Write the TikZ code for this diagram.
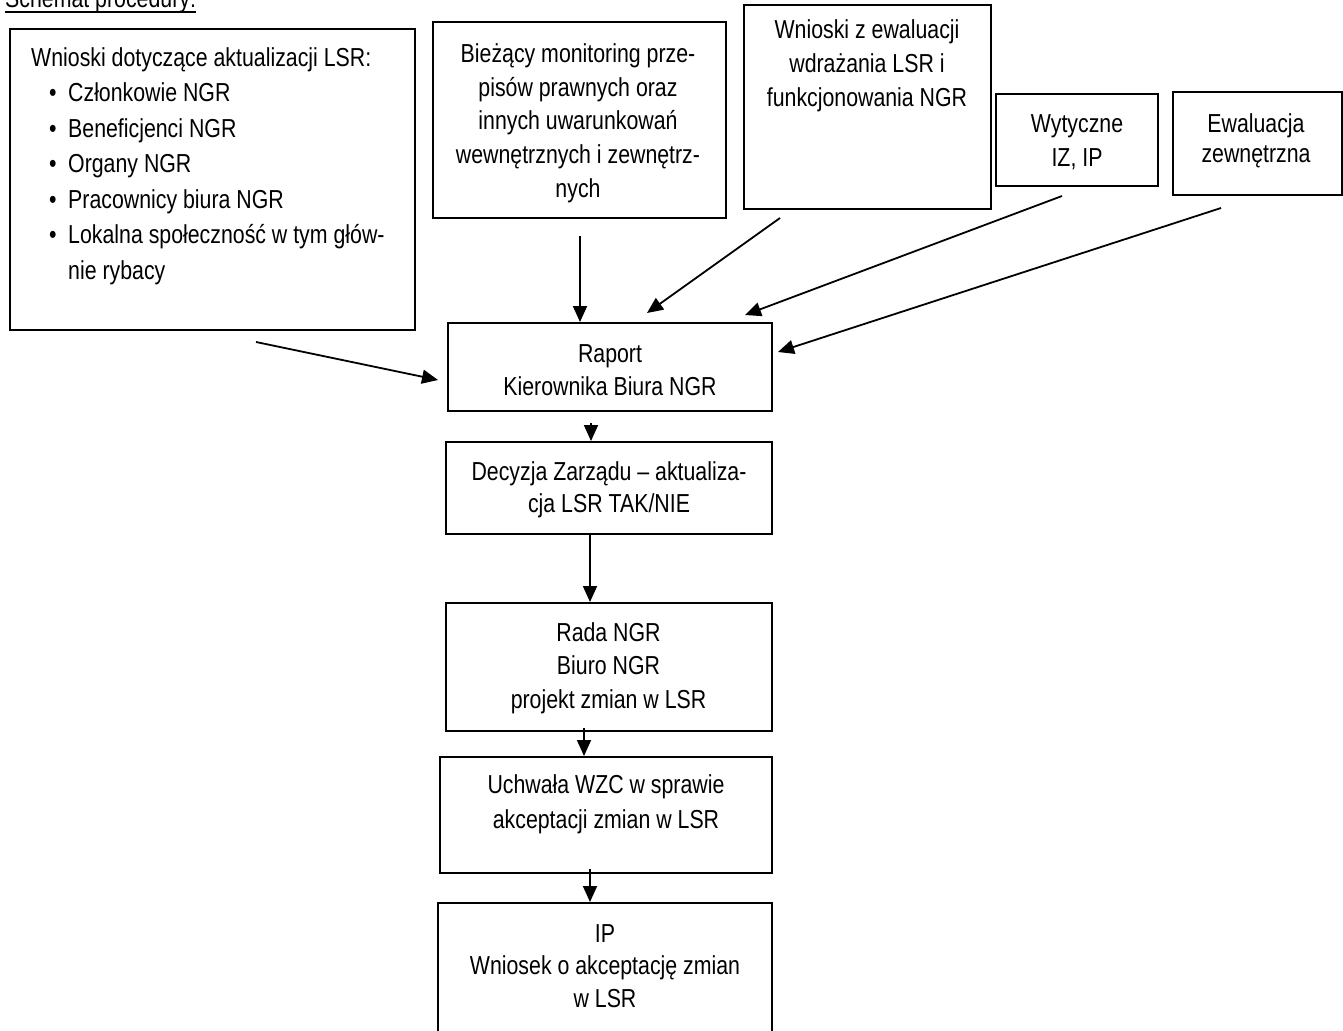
\documentclass[tikz,border=0pt]{standalone}
\usepackage{fontspec}
\setmainfont{Liberation Sans}[FakeStretch=0.82]
\usetikzlibrary{arrows.meta}
\newcommand\fl{\rule{0pt}{24pt}}
\newcommand\bul{\makebox[37pt][l]{\hspace*{18pt}\textbullet}}
\begin{document}
\begin{tikzpicture}[x=1pt,y=-1pt,
  box/.style={draw=black, line width=2pt, inner sep=0pt},
  txt/.style={inner sep=0pt, align=center, anchor=north, font=\fontsize{26pt}{33pt}\selectfont},
  arr/.style={line width=1.8pt, -{Triangle[length=16pt,width=14pt]}}]
\fill[white] (0,0) rectangle (1343,1030);
\useasboundingbox (0,0) rectangle (1343,1030);

% title
\node[anchor=base west, inner sep=0pt, font=\fontsize{26pt}{33pt}\selectfont] (title) at (5,8) {Schemat procedury:};
\draw[line width=2pt] ([yshift=-4pt]title.base west) -- ([yshift=-4pt]title.base east);

% boxes
\node[box, minimum width=405pt, minimum height=301pt] (b1) at (212.5,179.5) {};
\node[box, minimum width=293pt, minimum height=195pt] (b2) at (579.5,120) {};
\node[box, minimum width=247pt, minimum height=204pt] (b3) at (867,107) {};
\node[box, minimum width=162pt, minimum height=92pt] (b4) at (1077,140) {};
\node[box, minimum width=169pt, minimum height=103pt] (b5) at (1257.5,143.5) {};
\node[box, minimum width=324pt, minimum height=88pt] (raport) at (610,367) {};
\node[box, minimum width=326pt, minimum height=92pt] (dec) at (609,488) {};
\node[box, minimum width=326pt, minimum height=128pt] (rada) at (609,667) {};
\node[box, minimum width=332pt, minimum height=116pt] (uch) at (606,815) {};
\node[box, minimum width=334pt, minimum height=140pt] (ip) at (605,973) {};

% texts
\node[txt, anchor=north west, align=left, font=\fontsize{26pt}{35.5pt}\selectfont] (t1) at (31,42)
 {\fl Wnioski dotyczące aktualizacji LSR:\\
  \bul Członkowie NGR\\
  \bul Beneficjenci NGR\\
  \bul Organy NGR\\
  \bul Pracownicy biura NGR\\
  \bul Lokalna społeczność w tym głów-\\
  \hspace*{37pt}nie rybacy};
\node[txt, font=\fontsize{26pt}{33.8pt}\selectfont] (t2) at (578,38) {\fl Bieżący monitoring prze-\\pisów prawnych oraz\\innych uwarunkowań\\wewnętrznych i zewnętrz-\\nych};
\node[txt, font=\fontsize{26pt}{34pt}\selectfont] (t3) at (867,14) {\fl Wnioski z ewaluacji\\wdrażania LSR i\\funkcjonowania NGR};
\node[txt, font=\fontsize{26pt}{34pt}\selectfont] (t4) at (1077,108) {\fl Wytyczne\\IZ, IP};
\node[txt, font=\fontsize{26pt}{30pt}\selectfont] (t5) at (1256,108) {\fl Ewaluacja\\zewnętrzna};
\node[txt] (t6) at (610,338) {\fl Raport\\Kierownika Biura NGR};
\node[txt, font=\fontsize{26pt}{32pt}\selectfont] (t7) at (609,456) {\fl Decyzja Zarządu – aktualiza-\\cja LSR TAK/NIE};
\node[txt, font=\fontsize{26pt}{33.5pt}\selectfont] (t8) at (608.5,617) {\fl Rada NGR\\Biuro NGR\\projekt zmian w LSR};
\node[txt, font=\fontsize{26pt}{35pt}\selectfont] (t9) at (606,769) {\fl Uchwała WZC w sprawie\\akceptacji zmian w LSR};
\node[txt, font=\fontsize{26pt}{32.5pt}\selectfont] (t10) at (605,918) {\fl IP\\Wniosek o akceptację zmian\\w LSR};

% connectors
\coordinate (s1) at (256,342); \coordinate (e1) at (438,380);
\coordinate (s2) at (580,236);
\coordinate (s3) at (780,218); \coordinate (e3) at (647,313);
\coordinate (s4) at (1062,196); \coordinate (e4) at (745,315);
\coordinate (s5) at (1221,208); \coordinate (e5) at (778,352);
\coordinate (s6) at (591,423);
\coordinate (s7) at (590,534);
\coordinate (s8) at (584,728);
\coordinate (s9) at (590,869);
\draw[arr] (s1) -- (e1);
\draw[arr] (s2) -- (s2 |- raport.north);
\draw[arr] (s3) -- (e3);
\draw[arr] (s4) -- (e4);
\draw[arr] (s5) -- (e5);
\draw[arr] (s6) -- (s6 |- dec.north);
\draw[arr] (s7) -- (s7 |- rada.north);
\draw[arr] (s8) -- (s8 |- uch.north);
\draw[arr] (s9) -- (s9 |- ip.north);
\end{tikzpicture}
\end{document}
